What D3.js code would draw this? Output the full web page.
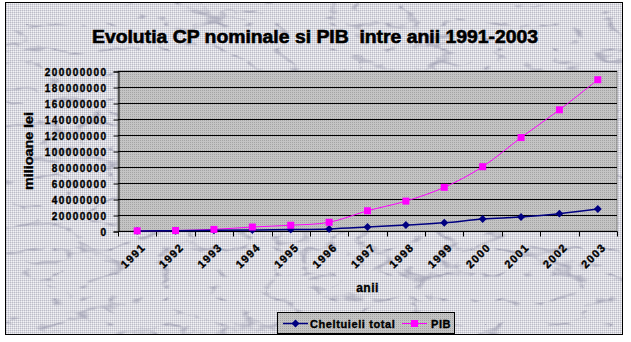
<!DOCTYPE html>
<html>
<head>
<meta charset="utf-8">
<script src="https://cdn.jsdelivr.net/npm/d3@7"></script>
<style>
  html, body { margin: 0; padding: 0; background: #fff; }
  svg { display: block; }
  text { font-family: "Liberation Sans", Arial, sans-serif; font-weight: bold; fill: #000;
         stroke: #000; stroke-width: 0.35px; white-space: pre; }
</style>
</head>
<body>
<svg id="chart" width="631" height="342"></svg>
<script>
// Years on the category axis
const years = ["1991","1992","1993","1994","1995","1996","1997","1998","1999","2000","2001","2002","2003"];
// Total expenditure (milioane lei)
const cheltuieli = [150000, 400000, 900000, 1300000, 1800000, 2600000, 4900000, 7500000, 10300000, 15000000, 17600000, 21700000, 27500000];
// GDP (milioane lei)
const pib = [220000, 603000, 2004000, 4977000, 7214000, 10892000, 25293000, 37380000, 54573000, 80377000, 116769000, 151475000, 189078000];
// Value-axis ticks
const yTicks = [0, 20000000, 40000000, 60000000, 80000000, 100000000, 120000000, 140000000, 160000000, 180000000, 200000000];
const seriesNames = ["Cheltuieli total", "PIB"];

const svg = d3.select("#chart");
const defs = svg.append("defs");

// Marble veins for the chart background
const marble = defs.append("filter").attr("id", "marble")
  .attr("filterUnits", "userSpaceOnUse")
  .attr("x", 5).attr("y", 2).attr("width", 618).attr("height", 333)
  .attr("color-interpolation-filters", "sRGB");
marble.append("feTurbulence").attr("type", "turbulence")
  .attr("baseFrequency", "0.018 0.04").attr("numOctaves", 3).attr("seed", 5).attr("result", "noise");
marble.append("feColorMatrix").attr("in", "noise").attr("type", "matrix")
  .attr("values", "0 0 0 0 0.6  0 0 0 0 0.6  0 0 0 0 0.68  -4.5 0 0 0 0.75");

// Dithered grey fill used for plot area and legend
const dots = defs.append("pattern").attr("id", "dots")
  .attr("width", 2).attr("height", 2).attr("patternUnits", "userSpaceOnUse");
dots.append("rect").attr("width", 2).attr("height", 2).attr("fill", "#c4c4c4");
dots.append("rect").attr("width", 1).attr("height", 1).attr("fill", "#a4a4a4");

const bgDots = defs.append("pattern").attr("id", "bgdots")
  .attr("width", 2).attr("height", 2).attr("patternUnits", "userSpaceOnUse");
bgDots.append("rect").attr("width", 2).attr("height", 2).attr("fill", "#dadae0");
bgDots.append("rect").attr("width", 1).attr("height", 1).attr("fill", "#bcbcc8");
bgDots.append("rect").attr("x", 1).attr("y", 1).attr("width", 1).attr("height", 1).attr("fill", "#f2f2f6");

// Outer chart area
svg.append("rect").attr("x", 5.5).attr("y", 2.5).attr("width", 617).attr("height", 332)
  .attr("fill", "url(#bgdots)");
svg.append("rect").attr("x", 5.5).attr("y", 2.5).attr("width", 617).attr("height", 332)
  .attr("fill", "#000").attr("filter", "url(#marble)");
svg.append("rect").attr("x", 5.5).attr("y", 2.5).attr("width", 617).attr("height", 332)
  .attr("fill", "none").attr("stroke", "#000").attr("stroke-width", 1);

// Plot area geometry
const plot = { left: 118, right: 617, top: 71, bottom: 231 };

const x = d3.scaleBand().domain(years).range([plot.left, plot.right]).padding(0);
const y = d3.scaleLinear().domain([0, 200000000]).range([plot.bottom, plot.top]);

svg.append("rect")
  .attr("x", plot.left).attr("y", plot.top)
  .attr("width", plot.right - plot.left).attr("height", plot.bottom - plot.top)
  .attr("fill", "url(#dots)").attr("stroke", "#808080").attr("stroke-width", 1);

// Horizontal gridlines
svg.append("g").selectAll("line").data(yTicks.filter(d => d > 0)).join("line")
  .attr("x1", plot.left).attr("x2", plot.right)
  .attr("y1", d => Math.round(y(d)) + 0.5).attr("y2", d => Math.round(y(d)) + 0.5)
  .attr("stroke", "#000").attr("stroke-width", 1);

// Value axis
const yAxis = svg.append("g")
  .attr("transform", `translate(${plot.left + 0.5},0.5)`)
  .call(d3.axisLeft(y).tickValues(yTicks).tickFormat(d => String(d)).tickSize(5).tickPadding(6));
yAxis.select(".domain").attr("stroke", "#000");
yAxis.selectAll(".tick line").attr("stroke", "#000");
yAxis.selectAll("text")
  .style("font-family", "'Liberation Sans', Arial, sans-serif")
  .style("font-weight", "bold").style("font-size", "10px")
  .style("letter-spacing", "1.4px").attr("fill", "#000").attr("dy", "0.35em");

// Category axis with ticks between categories
const xAxis = svg.append("g")
  .attr("transform", `translate(0.5,${plot.bottom + 0.5})`);
xAxis.append("line").attr("x1", plot.left).attr("x2", plot.right).attr("stroke", "#000");
const bounds = years.map(d => x(d)).concat([plot.right]);
xAxis.selectAll("line.tk").data(bounds).join("line").attr("class", "tk")
  .attr("x1", d => Math.round(d)).attr("x2", d => Math.round(d))
  .attr("y1", 0).attr("y2", 5).attr("stroke", "#000");
xAxis.selectAll("text").data(years).join("text")
  .attr("transform", d => `translate(${x(d) + x.bandwidth() / 2 + 3},${11}) rotate(-45)`)
  .attr("text-anchor", "end").attr("dy", "0.7em")
  .style("font-size", "11px").style("letter-spacing", "1.3px")
  .text(d => d);

// Lines and markers
const line = d3.line()
  .x((d, i) => x(years[i]) + x.bandwidth() / 2)
  .y(d => y(d))
  .curve(d3.curveCatmullRom.alpha(0));

svg.append("path").datum(pib).attr("d", line)
  .attr("fill", "none").attr("stroke", "#ff00ff").attr("stroke-width", 1);
svg.append("path").datum(cheltuieli).attr("d", line)
  .attr("fill", "none").attr("stroke", "#000080").attr("stroke-width", 1.5);

const diamond = d3.symbol().type(d3.symbolDiamond2).size(40);
svg.append("g").selectAll("path").data(cheltuieli).join("path")
  .attr("transform", (d, i) => `translate(${x(years[i]) + x.bandwidth() / 2},${y(d)})`)
  .attr("d", diamond).attr("fill", "#000080");

svg.append("g").selectAll("rect").data(pib).join("rect")
  .attr("x", (d, i) => x(years[i]) + x.bandwidth() / 2 - 3.5)
  .attr("y", d => y(d) - 3.5)
  .attr("width", 7).attr("height", 7).attr("fill", "#ff00ff");

// Title
svg.append("text").attr("x", 315).attr("y", 43).attr("text-anchor", "middle")
  .attr("textLength", 446).attr("lengthAdjust", "spacingAndGlyphs")
  .style("font-size", "18px").style("stroke-width", "0.6px")
  .text("Evolutia CP nominale si PIB  intre anii 1991-2003");

// Axis titles
svg.append("text").attr("x", (plot.left + plot.right) / 2).attr("y", 292)
  .attr("text-anchor", "middle").style("font-size", "12px").style("letter-spacing", "0.5px")
  .text("anii");
svg.append("text")
  .attr("transform", `translate(33,${(plot.top + plot.bottom) / 2}) rotate(-90)`)
  .attr("text-anchor", "middle").style("font-size", "12px")
  .attr("textLength", 78).attr("lengthAdjust", "spacingAndGlyphs")
  .text("milioane lei");

// Legend
const lg = svg.append("g");
lg.append("rect").attr("x", 277.5).attr("y", 312.5).attr("width", 177).attr("height", 21)
  .attr("fill", "url(#dots)").attr("stroke", "#000");
const legendItems = [
  { name: seriesNames[0], color: "#000080", x0: 283, tx: 310, shape: "diamond" },
  { name: seriesNames[1], color: "#ff00ff", x0: 402, tx: 431, shape: "square" }
];
legendItems.forEach(it => {
  lg.append("line").attr("x1", it.x0).attr("x2", it.x0 + 25).attr("y1", 323.5).attr("y2", 323.5)
    .attr("stroke", it.color).attr("stroke-width", it.shape === "diamond" ? 1.5 : 1);
  if (it.shape === "diamond") {
    lg.append("path").attr("d", diamond).attr("transform", `translate(${it.x0 + 12.5},323.5)`)
      .attr("fill", it.color);
  } else {
    lg.append("rect").attr("x", it.x0 + 9).attr("y", 320).attr("width", 7).attr("height", 7)
      .attr("fill", it.color);
  }
  lg.append("text").attr("x", it.tx).attr("y", 327.5).style("font-size", "11px")
    .style("letter-spacing", "0.6px").text(it.name);
});
</script>
</body>
</html>
